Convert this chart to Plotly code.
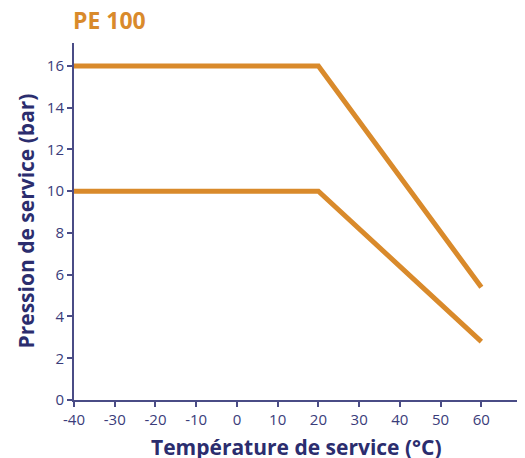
import plotly.graph_objects as go

temps = [-40, 20, 60]
pn16 = [16, 16, 5.4]
pn10 = [10, 10, 2.8]
x_ticks = [-40, -30, -20, -10, 0, 10, 20, 30, 40, 50, 60]
y_ticks = [0, 2, 4, 6, 8, 10, 12, 14, 16]

orange = "#D98A2B"
navy = "#2B2D6E"
tick_col = "#3A3C7A"
axis_col = "#4A4C86"
fam = "Open Sans, sans-serif"

fig = go.Figure()
for ys in (pn16, pn10):
    fig.add_trace(go.Scatter(x=temps, y=ys, mode="lines",
                             line=dict(color=orange, width=5), showlegend=False,
                             hoverinfo="skip"))

W, H = 517, 450
L, R, T, B = 66, 7, 35, 58
pw, ph = W - L - R, H - T - B

fig.update_layout(
    width=W, height=H,
    margin=dict(l=L, r=R, t=T, b=B, autoexpand=False),
    paper_bgcolor="white", plot_bgcolor="white",
    font=dict(family=fam, color=navy),
    title=dict(text="<b>PE 100</b>", x=(L - 1) / W, xanchor="left", y=1 - 13 / H, yanchor="middle",
               font=dict(size=23, color=orange, family=fam)),
    xaxis=dict(range=[-40, 69], tickvals=x_ticks, ticktext=[str(v) for v in x_ticks],
               showgrid=False, zeroline=False, showline=True, linecolor=axis_col, linewidth=2,
               ticks="outside", ticklen=5, tickwidth=1.5, tickcolor=axis_col,
               tickfont=dict(size=15, color=tick_col, family=fam), automargin=False),
    yaxis=dict(range=[0, 17.1], tickvals=y_ticks, ticktext=[str(v) for v in y_ticks],
               showgrid=False, zeroline=False, showline=True, linecolor=axis_col, linewidth=2,
               ticks="outside", ticklen=5, tickwidth=1.5, tickcolor=axis_col,
               tickfont=dict(size=15, color=tick_col, family=fam), automargin=False),
    annotations=[
        dict(text="<b>Température de service (°C)</b>", xref="paper", yref="paper",
             x=0.5, y=-47 / ph, xanchor="center", yanchor="middle", showarrow=False,
             font=dict(size=21, color=navy, family=fam)),
        dict(text="<b>Pression de service (bar)</b>", xref="paper", yref="paper",
             x=-49 / pw, y=0.5, xanchor="center", yanchor="middle", textangle=-90, showarrow=False,
             font=dict(size=21, color=navy, family=fam)),
    ],
)
fig.write_html("out.html")
